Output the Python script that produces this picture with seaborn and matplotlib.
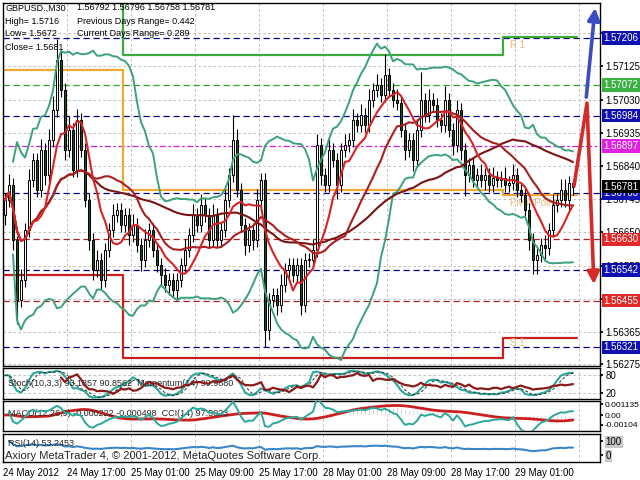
import numpy as np
import pandas as pd
import matplotlib
matplotlib.use("Agg")
import matplotlib.pyplot as plt
import matplotlib.transforms as mtransforms
import seaborn as sns

# ---- GBPUSD M30 candles (bar 0 = 24 May 09:00) ----
close = [1.56743, 1.56786, 1.56629, 1.56457, 1.56514, 1.56657, 1.56800, 1.56857, 1.56772, 1.56886,
         1.56815, 1.56915, 1.57000, 1.57143, 1.57058, 1.56886, 1.56943, 1.56829, 1.56972, 1.56886,
         1.56743, 1.56629, 1.56543, 1.56571, 1.56514, 1.56600, 1.56657, 1.56700, 1.56714, 1.56672,
         1.56700, 1.56643, 1.56672, 1.56614, 1.56571, 1.56629, 1.56657, 1.56600, 1.56557, 1.56529,
         1.56500, 1.56514, 1.56486, 1.56514, 1.56557, 1.56600, 1.56643, 1.56700, 1.56672, 1.56729,
         1.56700, 1.56629, 1.56700, 1.56629, 1.56657, 1.56743, 1.56815, 1.56915, 1.56772, 1.56672,
         1.56614, 1.56657, 1.56629, 1.56743, 1.56800, 1.56371, 1.56457, 1.56471, 1.56443, 1.56500,
         1.56543, 1.56557, 1.56529, 1.56557, 1.56443, 1.56571, 1.56571, 1.56600, 1.56900, 1.56815,
         1.56786, 1.56886, 1.56857, 1.56786, 1.56886, 1.56900, 1.56915, 1.56972, 1.56958, 1.56986,
         1.56958, 1.57029, 1.57058, 1.57072, 1.57043, 1.57101, 1.57058, 1.57029, 1.57020, 1.56943,
         1.56886, 1.56915, 1.56857, 1.56943, 1.57029, 1.56986, 1.57029, 1.57015, 1.56972, 1.56958,
         1.57029, 1.56943, 1.56900, 1.57000, 1.56886, 1.56815, 1.56843, 1.56800, 1.56815, 1.56800,
         1.56815, 1.56786, 1.56806, 1.56800, 1.56806, 1.56786, 1.56790, 1.56815, 1.56772, 1.56757,
         1.56714, 1.56629, 1.56571, 1.56586, 1.56614, 1.56605, 1.56657, 1.56729, 1.56743, 1.56772,
         1.56743, 1.56792, 1.56781]
first_open = 1.56700
# wick lengths beyond the body, in pips
wick_up = [2, 3, 2, 1, 3, 2, 3, 2, 2, 3, 2, 3, 4, 6, 3, 2, 4, 2, 3, 2,
           2, 2, 2, 3, 2, 2, 2, 3, 2, 2, 2, 2, 3, 2, 2, 3, 2, 2, 2, 2,
           2, 2, 2, 2, 2, 3, 2, 3, 2, 3, 2, 2, 3, 2, 2, 3, 2, 7, 3, 2,
           2, 2, 2, 3, 2, 2, 2, 2, 2, 3, 2, 2, 2, 2, 2, 2, 2, 3, 3, 2,
           2, 3, 2, 2, 2, 3, 2, 3, 2, 3, 2, 3, 2, 3, 2, 6, 2, 2, 3, 2,
           2, 2, 2, 3, 8, 2, 3, 2, 2, 2, 4, 2, 2, 3, 2, 2, 2, 2, 2, 3,
           2, 2, 3, 2, 2, 3, 2, 3, 2, 2, 2, 2, 2, 2, 2, 3, 2, 3, 2, 3,
           3, 2, 0.5]
wick_dn = [3, 2, 3, 7, 2, 2, 2, 2, 2, 2, 3, 2, 2, 2, 2, 3, 2, 2, 2, 2,
           2, 3, 3, 2, 3, 2, 2, 2, 2, 2, 2, 3, 2, 2, 3, 2, 2, 2, 2, 3,
           2, 3, 2, 3, 2, 2, 2, 2, 2, 2, 2, 2, 2, 2, 2, 2, 2, 2, 2, 2,
           3, 2, 3, 2, 2, 5, 3, 2, 3, 2, 2, 2, 2, 2, 3, 2, 2, 2, 2, 3,
           2, 2, 2, 4, 2, 2, 2, 2, 2, 2, 2, 2, 2, 2, 2, 2, 2, 2, 2, 2,
           3, 2, 3, 2, 2, 2, 2, 2, 2, 2, 2, 2, 3, 2, 3, 6, 2, 2, 2, 2,
           3, 2, 2, 2, 2, 2, 2, 2, 2, 2, 2, 3, 4, 4, 2, 3, 2, 2, 2, 2,
           2, 3, 2.3]

date_labels = ["24 May 2012", "24 May 17:00", "25 May 01:00", "25 May 09:00", "25 May 17:00",
               "28 May 01:00", "28 May 09:00", "28 May 17:00", "29 May 01:00"]
date_bars = [-0.5, 15.5, 31.5, 47.5, 63.5, 79.5, 95.5, 111.5, 127.5]
grid_bars = [15.5, 31.5, 47.5, 63.5, 79.5, 95.5, 111.5, 127.5, 143.5]

price_ticks = [1.56275, 1.56365, 1.56460, 1.56555, 1.56650, 1.56745, 1.56840, 1.56935, 1.57030, 1.57125, 1.57220]
hidden_ticks = [1.56460, 1.57220]  # covered by the level labels in the terminal

level_prices = [1.57206, 1.57072, 1.56984, 1.56897, 1.56763, 1.56630, 1.56542, 1.56455, 1.56321]
level_colors = ["#000080", "#2E9E2E", "#000080", "#CC22CC", "#000080", "#AA2020", "#000080", "#AA2020", "#000080"]
level_bg = ["#1010B0", "#3CB043", "#1010B0", "#E020E0", "#1010B0", "#E02828", "#1010B0", "#E02828", "#1010B0"]
last_price = 1.56781

# daily pivot levels
day_start = [-0.5, 29.4, 124.5]
day_end = [29.4, 124.5, 143.0]
r1 = [1.57450, 1.57158, 1.57209]
pivot = [1.57115, 1.56772, 1.56757]
s1 = [1.56529, 1.56291, 1.56348]

# forecast arrows at the right edge
up_bars = [145.25, 147.6]
up_prices = [1.57029, 1.57300]
dn_bars = [142.25, 145.5, 147.25]
dn_prices = [1.56783, 1.57020, 1.56494]

# ---- indicators ----
df = pd.DataFrame({"close": close})
df["open"] = [first_open] + close[:-1]
df["high"] = np.maximum(df["open"], df["close"]) + np.array(wick_up) * 0.0001
df["low"] = np.minimum(df["open"], df["close"]) - np.array(wick_dn) * 0.0001
df["bar"] = np.arange(len(df))
c = df["close"]

df["ma_fast"] = c.rolling(8, min_periods=1).mean()
df["ma_mid"] = c.rolling(21, min_periods=1).mean()
df["ma_slow"] = c.rolling(50, min_periods=1).mean()
bb_mid = c.rolling(20, min_periods=3).mean()
bb_sd = c.rolling(20, min_periods=3).std(ddof=0)
df["bb_up"] = bb_mid + 2 * bb_sd
df["bb_dn"] = bb_mid - 2 * bb_sd

ll = df["low"].rolling(10, min_periods=1).min()
hh = df["high"].rolling(10, min_periods=1).max()
df["stoch_k"] = (c - ll).rolling(3, min_periods=1).sum() / (hh - ll).rolling(3, min_periods=1).sum() * 100
df["stoch_d"] = df["stoch_k"].rolling(3, min_periods=1).mean()
df["mom"] = c / c.shift(14) * 100

df["macd"] = c.ewm(span=12, adjust=False).mean() - c.ewm(span=26, adjust=False).mean()
df["signal"] = df["macd"].rolling(9, min_periods=1).mean()
tp = (df["high"] + df["low"] + c) / 3
md = tp.rolling(14, min_periods=2).apply(lambda x: np.mean(np.abs(x - x.mean())), raw=True)
df["cci"] = ((tp - tp.rolling(14, min_periods=2).mean()) / (0.015 * md)).replace([np.inf, -np.inf], np.nan)

delta = c.diff()
gain = delta.clip(lower=0).ewm(alpha=1 / 14, adjust=False).mean()
loss = (-delta.clip(upper=0)).ewm(alpha=1 / 14, adjust=False).mean()
df["rsi"] = 100 - 100 / (1 + gain / loss)

# ---- figure ----
sns.set_theme(style="white")
plt.rcParams["font.family"] = ["Liberation Sans", "DejaVu Sans"]

fig = plt.figure(figsize=(6.4, 4.8), dpi=100)
W, H = 640, 480
def box(x0, y0, x1, y1):
    return [x0 / W, 1 - y1 / H, (x1 - x0) / W, (y1 - y0) / H]

ax = fig.add_axes(box(3, 3, 600, 366))
ax_st = fig.add_axes(box(3, 368, 600, 399))
ax_mc = fig.add_axes(box(3, 401, 600, 431))
ax_rs = fig.add_axes(box(3, 434, 600, 462))
ax_m = ax_st.twinx()   # momentum scale
ax_c = ax_mc.twinx()   # CCI scale
XL = (-0.5, 148.75)
grid_kw = dict(color="#B4B4B4", lw=0.6, ls=(0, (3, 3)), zorder=0.5)

for a in (ax, ax_st, ax_mc, ax_rs):
    a.set_xlim(*XL)
    a.set_facecolor("white")
    for s in a.spines.values():
        s.set_color("black")
        s.set_linewidth(1)
    for gb in grid_bars:
        a.axvline(gb, **grid_kw)
    a.yaxis.tick_right()
    a.yaxis.set_label_position("right")
    a.tick_params(axis="y", labelsize=7, length=2, pad=2, colors="black",
                  left=False, labelleft=False, right=True, labelright=True)
    a.tick_params(axis="x", length=0, labelbottom=False)
for a in (ax_m, ax_c):
    a.set_xlim(*XL)
    a.axis("off")

# main chart
ax.set_ylim(1.56268, 1.57306)
ax.set_yticks(price_ticks)
ax.set_yticklabels(["" if t in hidden_ticks else f"{t:.5f}" for t in price_ticks])
for t in price_ticks:
    ax.axhline(t, **grid_kw)
for p, col in zip(level_prices, level_colors):
    ls = (0, (2, 2, 5, 2)) if col == "#CC22CC" else (0, (5, 3))
    ax.axhline(p, color=col, lw=0.9, ls=ls, zorder=1)

def step_points(levels):
    xs, ys = [], []
    for a0, a1, v in zip(day_start, day_end, levels):
        xs += [a0, a1]
        ys += [v, v]
    return xs, ys

for levels, col in ((r1, "#3DAA3D"), (pivot, "#F0A830"), (s1, "#C81E1E")):
    xs, ys = step_points(levels)
    ax.plot(xs, ys, color=col, lw=1.6, zorder=2)

lbl = "#E8B878"
ax.text(126.3, 1.57186, "R 1", color=lbl, fontsize=7, va="center", zorder=2)
ax.text(126.3, 1.56735, "Pivot Point", color=lbl, fontsize=7, va="center", zorder=2)
ax.text(126.3, 1.56334, "S 1", color=lbl, fontsize=7, va="center", zorder=2)

# candles
up = df["close"] >= df["open"]
ax.vlines(df["bar"], df["low"], df["high"], color="black", lw=0.8, zorder=2.8)
body = (df["close"] - df["open"]).abs().clip(lower=0.00002)
ax.bar(df["bar"], body, bottom=np.minimum(df["open"], df["close"]), width=0.72,
       color=np.where(up, "white", "#1E4D1E"), edgecolor="black", linewidth=0.7, zorder=3)

# indicator lines
for col, colr, lw in (("bb_up", "#3CA27A", 1.4), ("bb_dn", "#3CA27A", 1.4),
                      ("ma_slow", "#7A1414", 1.5), ("ma_mid", "#A82020", 1.5),
                      ("ma_fast", "#D82424", 1.5)):
    sns.lineplot(data=df, x="bar", y=col, ax=ax, color=colr, lw=lw, legend=False, zorder=4)

# forecast arrows
ax.annotate("", xy=(up_bars[1], up_prices[1]), xytext=(up_bars[0], up_prices[0]),
            arrowprops=dict(arrowstyle="-|>,head_length=0.6,head_width=0.3", color="#3A4CC0", lw=2.6), zorder=5)
sns.lineplot(x=dn_bars[:2], y=dn_prices[:2], ax=ax, color="#D42A2A", lw=2.6, zorder=5)
ax.annotate("", xy=(dn_bars[2], dn_prices[2]), xytext=(dn_bars[1], dn_prices[1]),
            arrowprops=dict(arrowstyle="-|>,head_length=0.6,head_width=0.3", color="#D42A2A", lw=2.6), zorder=5)

# right-side price labels
trans = mtransforms.blended_transform_factory(ax.transAxes, ax.transData)
for p, bg in zip(level_prices + [last_price], level_bg + ["black"]):
    ax.text(1.006, p, f"{p:.5f}", transform=trans, fontsize=7, color="white", va="center", ha="left",
            bbox=dict(boxstyle="square,pad=0.18", fc=bg, ec="none"), clip_on=False, zorder=6)
ax.set_xlabel("")
ax.set_ylabel("")

# stochastic + momentum
ax_st.set_ylim(0, 103)
ax_st.set_yticks([20, 80])
ax_st.set_yticklabels(["20", "80"])
for v in (20, 80):
    ax_st.axhline(v, **grid_kw)
sns.lineplot(data=df, x="bar", y="stoch_k", ax=ax_st, color="#2BA89A", lw=1.5, legend=False, zorder=3)
ax_st.plot(df["bar"], df["stoch_d"], color="#333333", lw=0.7, ls=(0, (3, 2)), zorder=3)
sns.lineplot(data=df, x="bar", y="mom", ax=ax_m, color="#8B1A1A", lw=1.6, legend=False)
mom = df["mom"].dropna()
ax_m.set_ylim(mom.min() - 0.15, mom.max() + 0.15)
ax_m.axis("off")
ax_st.set_ylabel("")
ax_st.set_xlabel("")

# MACD + CCI
ax_mc.set_ylim(-0.0017, 0.0015)
ax_mc.bar(df["bar"], df["macd"], width=0.5, color="#BDBDBD", zorder=2)
sns.lineplot(data=df, x="bar", y="signal", ax=ax_mc, color="#CC2020", lw=2.0, legend=False, zorder=3)
ax_mc.set_yticks([0.001135, 0.0, -0.00104])
ax_mc.set_yticklabels(["0.001135", "0.00", "-0.00104"])
ax_mc.tick_params(axis="y", labelsize=6, pad=1)
sns.lineplot(data=df, x="bar", y="cci", ax=ax_c, color="#2BA89A", lw=1.4, legend=False)
ax_c.set_ylim(-260, 260)
ax_c.axis("off")
ax_mc.set_ylabel("")
ax_mc.set_xlabel("")

# RSI
ax_rs.set_ylim(-50, 150)
sns.lineplot(data=df, x="bar", y="rsi", ax=ax_rs, color="#3A86C8", lw=1.5, legend=False, zorder=3)
ax_rs.set_yticks([0, 100])
ax_rs.set_yticklabels(["0", "100"])
for lab in ax_rs.get_yticklabels():
    lab.set_bbox(dict(boxstyle="square,pad=0.1", fc="#C8C8C8", ec="none"))
ax_rs.set_ylabel("")
ax_rs.set_xlabel("")
ax_rs.set_xticks(date_bars)
ax_rs.set_xticklabels(date_labels)
ax_rs.tick_params(axis="x", length=3, width=0.8, labelbottom=True, labelsize=7, pad=1, colors="black", direction="out")
for lab in ax_rs.get_xticklabels():
    lab.set_ha("left")

# panel captions
ax_st.text(0.008, 0.5, "Stoch(10,3,3) 93.1857 90.8562  Momentum(14) 99.9880", transform=ax_st.transAxes,
           fontsize=6.5, va="center", zorder=6)
ax_mc.text(0.008, 0.6, "MACD(12,26,9) -0.000222 -0.000498  CCI(14) 97.5023", transform=ax_mc.transAxes,
           fontsize=6.5, va="center", zorder=6)
ax_rs.text(0.008, 0.65, "RSI(14) 53.2453", transform=ax_rs.transAxes, fontsize=6.5, va="center", zorder=6)
ax_rs.text(0.003, 0.2, "Axiory MetaTrader 4, \u00a9 2001-2012, MetaQuotes Software Corp.", transform=ax_rs.transAxes,
           fontsize=8, va="center", zorder=6)

# header text
def ftext(x, y, s):
    fig.text(x / W, 1 - y / H, s, fontsize=6.5, va="center", ha="left", color="black")

ftext(5, 8, "GBPUSD.,M30")
ftext(77, 8, "1.56792 1.56796 1.56758 1.56781")
ftext(5, 21, "High= 1.5716")
ftext(77, 21, "Previous Days Range= 0.442")
ftext(5, 34, "Low= 1.5672")
ftext(77, 34, "Current Days Range= 0.289")
ftext(5, 47, "Close= 1.5681")

fig.savefig("out.png", dpi=100)
